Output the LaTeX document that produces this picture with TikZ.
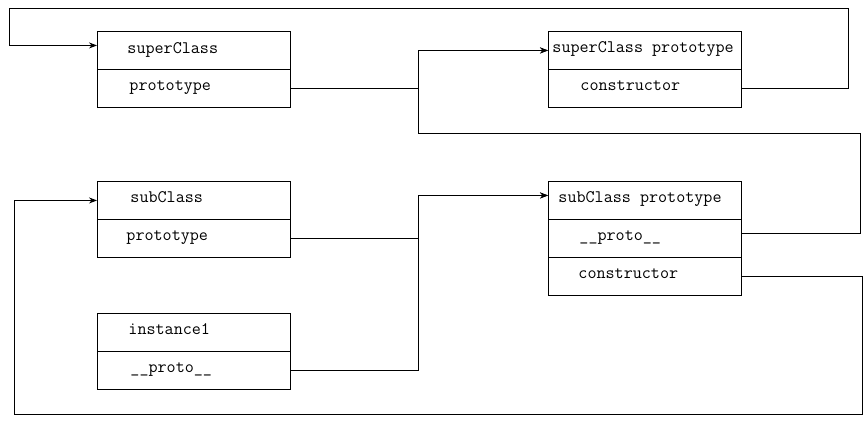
\documentclass[tikz,border=0pt]{standalone}
\usepackage{fontspec}
\usepackage{tikz}
\usetikzlibrary{arrows,arrows.meta}

\begin{document}
\begin{tikzpicture}[x=1pt,y=-1pt,>={Stealth[length=8pt,width=6pt]},line width=0.9pt]
  \tikzstyle{cell}=[draw,anchor=north west,minimum width=193pt,minimum height=38pt,inner sep=0pt]
  \tikzstyle{word}=[anchor=mid west,inner sep=0pt,font=\ttfamily\fontsize{17.6}{20}\selectfont]
  \useasboundingbox (0,0) rectangle (866,423);
  % superClass
  \node [cell] (sc1) at (97,31) {};
  \node [cell] (sc2) at (97,69) {};
  \node [word] at ([xshift=30pt,yshift=-1pt]sc1.west) {superClass};
  \node [word] at ([xshift=32pt]sc2.west) {prototype};
  % superClass prototype
  \node [cell] (scp1) at (548,31) {};
  \node [cell] (scp2) at (548,69) {};
  \node [word] at ([xshift=4pt]scp1.west) {superClass prototype};
  \node [word] at ([xshift=32pt]scp2.west) {constructor};
  % subClass
  \node [cell] (sb1) at (97,181) {};
  \node [cell] (sb2) at (97,219) {};
  \node [word] at ([xshift=33pt]sb1.west) {subClass};
  \node [word] at ([xshift=29pt]sb2.west) {prototype};
  % subClass prototype
  \node [cell] (sp1) at (548,181) {};
  \node [cell] (sp2) at (548,219) {};
  \node [cell] (sp3) at (548,257) {};
  \node [word] at ([xshift=10pt]sp1.west) {subClass prototype};
  \node [word] at ([xshift=31pt]sp2.west) {\_\_proto\_\_};
  \node [word] at ([xshift=30pt]sp3.west) {constructor};
  % instance1
  \node [cell] (in1) at (97,313) {};
  \node [cell] (in2) at (97,351) {};
  \node [word] at ([xshift=31pt]in1.west) {instance1};
  \node [word] at ([xshift=33pt]in2.west) {\_\_proto\_\_};
  % links
  \draw [->] (scp2.east) -- ++(107,0) |- (9,8) |- ([yshift=5pt]sc1.west);
  \draw [->] (sc2.east) -- ++(128,0) |- (scp1.west);
  \draw [->] ([yshift=5pt]sp2.east) -- ++(119,0) |- (418,133) |- (scp1.west);
  \draw [->] (sb2.east) -- ++(128,0) |- ([yshift=5pt]sp1.west);
  \draw [->] (in2.east) -- ++(128,0) |- ([yshift=5pt]sp1.west);
  \draw [->] (sp3.east) -- ++(121,0) |- (14,414) |- (sb1.west);
\end{tikzpicture}
\end{document}
